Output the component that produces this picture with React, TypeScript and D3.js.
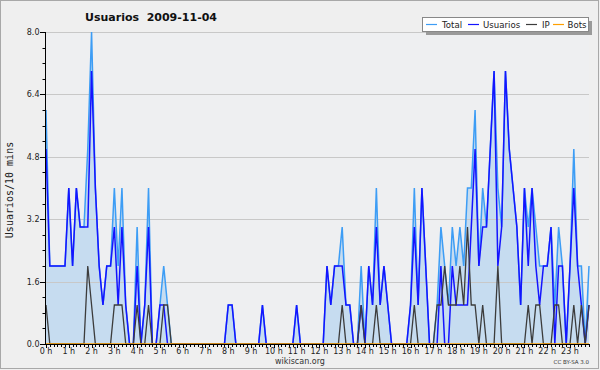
import React from "react";
import * as d3 from "d3";

// 10-minute slots, 144 per day
const usuarios: number[] = [
  5, 2, 2, 2, 2, 2, 4, 2, 4, 3, 3, 3,
  7, 4, 2, 1, 2, 2, 3, 1, 3, 1, 0, 0,
  2, 0, 1, 3, 0, 0, 1, 1, 0, 0, 0, 0,
  0, 0, 0, 0, 0, 0, 0, 0, 0, 0, 0, 0,
  1, 1, 0, 0, 0, 0, 0, 0, 0, 1, 0, 0,
  0, 0, 0, 0, 0, 0, 1, 0, 0, 0, 0, 0,
  0, 0, 2, 1, 2, 2, 2, 1, 1, 0, 0, 1,
  0, 2, 1, 3, 1, 2, 1, 0, 0, 0, 0, 0,
  1, 3, 1, 4, 2, 0, 0, 0, 2, 0, 0, 2,
  1, 1, 1, 1, 3, 5, 2, 3, 3, 5, 7, 2,
  3, 7, 5, 4, 3, 1, 4, 2, 4, 2, 1, 2,
  2, 3, 0, 2, 2, 0, 2, 4, 2, 1, 0, 1,
];

const ip: number[] = [
  1, 0, 0, 0, 0, 0, 0, 0, 0, 0, 0, 2,
  1, 0, 0, 0, 0, 0, 1, 1, 1, 0, 0, 0,
  1, 0, 0, 1, 0, 0, 0, 1, 1, 0, 0, 0,
  0, 0, 0, 0, 0, 0, 0, 0, 0, 0, 0, 0,
  0, 0, 0, 0, 0, 0, 0, 0, 0, 0, 0, 0,
  0, 0, 0, 0, 0, 0, 0, 0, 0, 0, 0, 0,
  0, 0, 0, 0, 0, 0, 1, 0, 0, 0, 0, 1,
  0, 0, 0, 1, 0, 0, 0, 0, 0, 0, 0, 0,
  0, 1, 0, 0, 0, 0, 0, 1, 1, 2, 1, 1,
  1, 2, 1, 3, 1, 1, 0, 1, 0, 0, 0, 2,
  0, 0, 0, 0, 0, 0, 0, 1, 0, 1, 1, 0,
  0, 0, 1, 1, 0, 0, 0, 1, 0, 1, 0, 1,
];

const total: number[] = [
  6, 2, 2, 2, 2, 2, 4, 2, 4, 3, 3, 5,
  8, 4, 2, 1, 2, 2, 4, 2, 4, 1, 0, 0,
  3, 0, 1, 4, 0, 0, 1, 2, 1, 0, 0, 0,
  0, 0, 0, 0, 0, 0, 0, 0, 0, 0, 0, 0,
  1, 1, 0, 0, 0, 0, 0, 0, 0, 1, 0, 0,
  0, 0, 0, 0, 0, 0, 1, 0, 0, 0, 0, 0,
  0, 0, 2, 1, 2, 2, 3, 1, 1, 0, 0, 2,
  0, 2, 1, 4, 1, 2, 1, 0, 0, 0, 0, 0,
  1, 4, 1, 4, 2, 0, 0, 1, 3, 2, 1, 3,
  2, 3, 2, 4, 4, 6, 2, 4, 3, 5, 7, 4,
  3, 7, 5, 4, 3, 1, 4, 3, 4, 3, 2, 2,
  2, 3, 1, 3, 2, 0, 2, 5, 2, 2, 0, 2,
];

const bots: number[] = [
  0, 0, 0, 0, 0, 0, 0, 0, 0, 0, 0, 0,
  0, 0, 0, 0, 0, 0, 0, 0, 0, 0, 0, 0,
  0, 0, 0, 0, 0, 0, 0, 0, 0, 0, 0, 0,
  0, 0, 0, 0, 0, 0, 0, 0, 0, 0, 0, 0,
  0, 0, 0, 0, 0, 0, 0, 0, 0, 0, 0, 0,
  0, 0, 0, 0, 0, 0, 0, 0, 0, 0, 0, 0,
  0, 0, 0, 0, 0, 0, 0, 0, 0, 0, 0, 0,
  0, 0, 0, 0, 0, 0, 0, 0, 0, 0, 0, 0,
  0, 0, 0, 0, 0, 0, 0, 0, 0, 0, 0, 0,
  0, 0, 0, 0, 0, 0, 0, 0, 0, 0, 0, 0,
  0, 0, 0, 0, 0, 0, 0, 0, 0, 0, 0, 0,
  0, 0, 0, 0, 0, 0, 0, 0, 0, 0, 0, 0,
];

const hourLabels: string[] = [
  "0 h", "1 h", "2 h", "3 h", "4 h", "5 h", "6 h", "7 h", "8 h", "9 h", "10 h", "11 h",
  "12 h", "13 h", "14 h", "15 h", "16 h", "17 h", "18 h", "19 h", "20 h", "21 h", "22 h", "23 h",
];
const yMajorTicks: number[] = [0, 1.6, 3.2, 4.8, 6.4, 8.0];
const seriesNames: string[] = ["Total", "Usuarios", "IP", "Bots"];

const TITLE = "Usuarios  2009-11-04";
const Y_TITLE = "Usuarios/10 mins";

const COLORS = {
  Total: "#3d9df5",
  Usuarios: "#1414ff",
  IP: "#3c3c3c",
  Bots: "#ffa000",
};

export default function App() {
  const W = 600, H = 370;
  const left = 46, right = 589, top = 32, bottom = 344;
  const n = total.length;
  const x = d3.scaleLinear().domain([0, n - 1]).range([left, right]);
  const y = d3.scaleLinear().domain([0, 8]).range([bottom, top]);

  const line = d3.line<number>().x((_, i) => x(i)).y((d) => y(d));
  const area = d3.area<number>().x((_, i) => x(i)).y0(y(0)).y1((d) => y(d));

  const minorY = d3.range(0, 8.0001, 0.4);
  const font = "'DejaVu Sans', Verdana, sans-serif";

  const legendItems = [
    { name: seriesNames[0], color: COLORS.Total, lx: 426, tx: 442 },
    { name: seriesNames[1], color: COLORS.Usuarios, lx: 468, tx: 483 },
    { name: seriesNames[2], color: COLORS.IP, lx: 526, tx: 542 },
    { name: seriesNames[3], color: COLORS.Bots, lx: 553, tx: 567.5 },
  ];

  return (
    <svg
      width={W}
      height={H}
      style={{ position: "absolute", left: 0, top: 0, display: "block" }}
      fontFamily={font}
    >
      <rect x={0} y={0} width={W} height={H} fill="#efefef" />
      <rect x={0.5} y={0.5} width={598} height={368} fill="none" stroke="#a8a8a8" />
      <rect x={left} y={top} width={right - left} height={bottom - top} fill="#eeeff1" />

      {/* area under total */}
      <path d={area(total) || ""} fill="#c6dcf0" />

      {/* grid */}
      {yMajorTicks.filter((t) => t > 0).map((t) => (
        <line key={"g" + t} x1={left} x2={right} y1={Math.round(y(t)) + 0.5} y2={Math.round(y(t)) + 0.5}
          stroke="#c8c8c8" strokeWidth={1} />
      ))}

      {/* lines */}
      <path d={line(total) || ""} fill="none" stroke={COLORS.Total} strokeWidth={1.5} />
      <path d={line(usuarios) || ""} fill="none" stroke={COLORS.Usuarios} strokeWidth={1.5} />
      <path d={line(ip) || ""} fill="none" stroke={COLORS.IP} strokeWidth={1.3} />
      <path d={line(bots) || ""} fill="none" stroke={COLORS.Bots} strokeWidth={1.3} />

      {/* y axis */}
      <line x1={left - 0.5} x2={left - 0.5} y1={top} y2={bottom + 1} stroke="#000" />
      {minorY.map((t, i) => (
        <line key={"ym" + i} x1={left - 3.5} x2={left} y1={Math.round(y(t)) + 0.5} y2={Math.round(y(t)) + 0.5} stroke="#000" />
      ))}
      {yMajorTicks.map((t) => (
        <g key={"yl" + t}>
          <line x1={left - 6} x2={left} y1={Math.round(y(t)) + 0.5} y2={Math.round(y(t)) + 0.5} stroke="#000" />
          <text x={39.5} y={y(t) + 3} fontSize={8} textAnchor="end" fill="#222">
            {d3.format(".1f")(t)}
          </text>
        </g>
      ))}

      {/* x axis */}
      <line x1={left - 1} x2={right + 0.5} y1={bottom + 0.5} y2={bottom + 0.5} stroke="#000" />
      {d3.range(0, n).map((i) => (
        <line key={"xt" + i} x1={Math.round(x(i)) + 0.5} x2={Math.round(x(i)) + 0.5}
          y1={bottom} y2={bottom + (i % 6 === 0 ? 4 : 3)} stroke="#000" />
      ))}
      {hourLabels.map((lab, h) => (
        <text key={"xl" + h} x={x(h * 6)} y={353.5} fontSize={8} textAnchor="middle" fill="#222">
          {lab}
        </text>
      ))}

      {/* titles */}
      <text x={151} y={21} fontSize={11} fontWeight="bold" textAnchor="middle" fill="#111"
        style={{ whiteSpace: "pre" }}>
        {TITLE}
      </text>
      <text transform={`translate(13,${190}) rotate(-90)`} fontSize={10} textAnchor="middle"
        fontFamily="'DejaVu Sans Mono', monospace" fill="#222">
        {Y_TITLE}
      </text>
      <text x={300} y={364} fontSize={8} textAnchor="middle" fill="#333">wikiscan.org</text>
      <text x={589} y={364} fontSize={5.5} textAnchor="end" fill="#333">CC BY-SA 3.0</text>

      {/* legend */}
      <rect x={426} y={21} width={166} height={14} fill="#9a9a9a" />
      <rect x={422.5} y={17.5} width={166} height={14} fill="#fff" stroke="#888" />
      {legendItems.map((it) => (
        <g key={it.name}>
          <line x1={it.lx} x2={it.lx + 11} y1={24.5} y2={24.5} stroke={it.color} strokeWidth={1.2} />
          <text x={it.tx} y={28} fontSize={8.6} fill="#222">{it.name}</text>
        </g>
      ))}
    </svg>
  );
}
